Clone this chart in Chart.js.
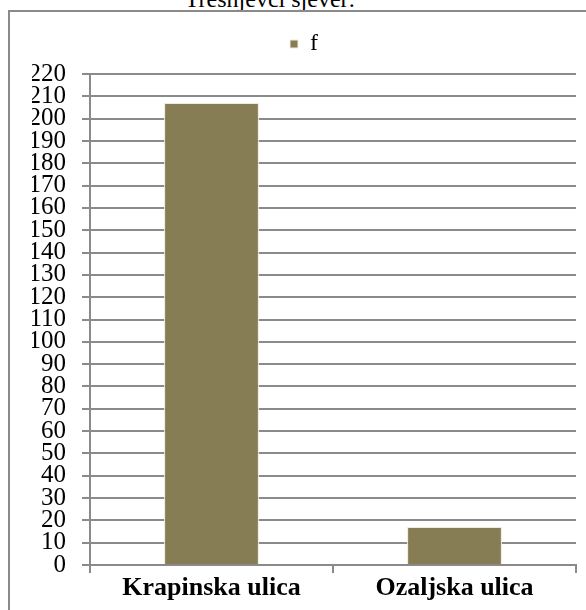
<!DOCTYPE html>
<html>
<head>
<meta charset="utf-8">
<script src="https://cdn.jsdelivr.net/npm/chart.js@4.4.1/dist/chart.umd.min.js"></script>
<style>
    html, body { margin: 0; padding: 0; background: #fff; overflow: hidden; }
    body { width: 586px; height: 610px; position: relative; }
    #title {
        position: absolute; left: 0; width: 540px; top: -13px; line-height: 24px;
        text-align: center; font-size: 24px; font-family: "Liberation Serif", serif; color: #000;
    }
    #frame {
        position: absolute; left: 8px; top: 10px; width: 600px; height: 620px;
        border-left: 2px solid #8a8a8a; border-top: 2px solid #8a8a8a;
    }
    #wrap { position: absolute; left: 10px; top: 0; width: 586px; height: 610px; }
</style>
</head>
<body>
<div id="title">Trešnjevci sjever:</div>
<div id="frame"></div>
<div id="wrap"><canvas id="chart"></canvas></div>
<script>
    // categories and the single series
    const streets = ['Krapinska ulica', 'Ozaljska ulica'];
    const seriesName = 'f';
    const counts = [207, 17];

    const gridGray = '#8a8a8a';
    const serif = '"Liberation Serif", "Times New Roman", serif';

    // extra room under the legend, before the plot starts
    const legendGap = {
        id: 'legendGap',
        afterInit(chart) {
            const fit = chart.legend.fit;
            chart.legend.fit = function() {
                fit.call(this);
                this.height += 8;
            };
        }
    };

    const ctx = document.getElementById('chart');

    new Chart(ctx, {
        type: 'bar',
        data: {
            labels: streets,
            datasets: [{
                label: seriesName,
                data: counts,
                backgroundColor: '#877d55',
                borderColor: '#efeadb',
                borderWidth: 1,
                categoryPercentage: 1,
                barPercentage: 0.39
            }]
        },
        plugins: [legendGap],
        options: {
            responsive: true,
            maintainAspectRatio: false,
            animation: false,
            // left padding nudges the legend right; y axis width below compensates
            layout: { padding: { top: 12, right: 20, left: 22, bottom: 0 } },
            plugins: {
                legend: {
                    display: true,
                    labels: {
                        boxWidth: 8,
                        boxHeight: 8,
                        padding: 20,
                        color: '#000',
                        font: { family: serif, size: 24 }
                    }
                },
                tooltip: { enabled: false }
            },
            scales: {
                x: {
                    grid: {
                        display: true,
                        drawOnChartArea: false,
                        offset: true,
                        tickLength: 8,
                        color: gridGray,
                        lineWidth: 2
                    },
                    border: { color: gridGray, width: 2 },
                    ticks: {
                        color: '#000',
                        padding: 2,
                        font: { family: serif, size: 26, weight: 'bold', lineHeight: 1 }
                    },
                    afterFit: function(scale) { scale.height = 45; }
                },
                y: {
                    min: 0,
                    max: 220,
                    grid: {
                        color: gridGray,
                        lineWidth: 2,
                        tickLength: 8
                    },
                    border: { color: gridGray, width: 2 },
                    ticks: {
                        stepSize: 10,
                        autoSkip: false,
                        color: '#000',
                        padding: 16,
                        font: { family: serif, size: 25, lineHeight: 1 }
                    },
                    afterFit: function(scale) { scale.width = 58; }
                }
            }
        }
    });
</script>
</body>
</html>
